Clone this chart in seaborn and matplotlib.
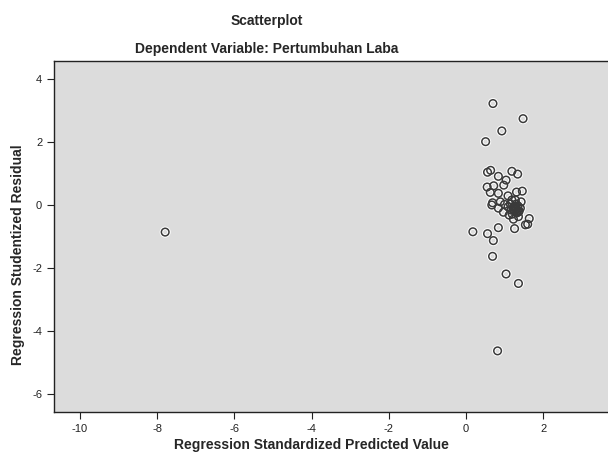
import matplotlib
matplotlib.use("Agg")
import matplotlib.pyplot as plt
import matplotlib.patheffects as pe
import pandas as pd
import seaborn as sns

# standardized predicted value vs studentized residual
pred = [
    -7.79, 0.70, 1.48, 0.93, 0.51, 0.82, 1.36, 1.04, 0.69, 0.71,
    0.56, 0.18, 0.84, 1.26, 1.54, 1.60, 1.64, 1.23,
    0.56, 0.64, 0.84, 1.19, 1.34, 1.04, 0.55, 0.72, 0.98, 0.63,
    0.84, 1.09, 1.31, 1.46, 0.69, 0.89, 1.00, 0.84, 1.19, 0.97,
    1.36, 0.67,
    1.15, 1.23, 1.30, 1.35, 1.25, 1.38, 1.17, 1.30, 1.41, 1.20,
    1.32, 1.28, 1.12, 1.43, 1.09, 1.27, 1.33, 1.22, 1.29, 1.36,
]
resid = [
    -0.86, 3.22, 2.74, 2.35, 2.01, -4.63, -2.49, -2.19, -1.63, -1.13,
    -0.91, -0.85, -0.72, -0.75, -0.63, -0.61, -0.43, -0.45,
    1.04, 1.10, 0.91, 1.07, 0.98, 0.79, 0.57, 0.61, 0.63, 0.40,
    0.37, 0.29, 0.41, 0.44, 0.07, 0.10, 0.02, -0.10, 0.16, -0.23,
    -0.37, 0.00,
    0.03, -0.06, -0.13, -0.03, -0.19, -0.19, -0.16, 0.03, -0.10, -0.29,
    -0.25, 0.16, -0.32, 0.10, -0.06, -0.09, -0.17, -0.12, -0.04, -0.22,
]
x_ticks = [-10, -8, -6, -4, -2, 0, 2]
y_ticks = [-6, -4, -2, 0, 2, 4]

df = pd.DataFrame({"pred": pred, "resid": resid})

sns.set_style("ticks")
plt.rcParams["font.family"] = ["Liberation Sans", "DejaVu Sans"]
plt.rcParams["axes.unicode_minus"] = False

fig = plt.figure(figsize=(6.08, 4.54), dpi=100)
ax = fig.add_axes([54 / 608, 1 - 412 / 454, 554 / 608, 351 / 454])
ax.set_facecolor("#dcdcdc")

sns.scatterplot(
    data=df, x="pred", y="resid", ax=ax,
    marker="o", s=30, facecolor="none", edgecolor="#3a3a3a", linewidth=1.1,
)
ax.collections[0].set_path_effects([pe.Stroke(linewidth=2.5, foreground="white"), pe.Normal()])

ax.set_xlim(-10.67, 3.68)
ax.set_ylim(-6.57, 4.57)
ax.set_xticks(x_ticks)
ax.set_yticks(y_ticks)
ax.tick_params(axis="both", labelsize=8, length=5, width=0.8, colors="#222222")
ax.set_xlabel("")
ax.set_ylabel("")
for side in ["left", "bottom", "top"]:
    ax.spines[side].set_visible(True)
    ax.spines[side].set_color("#222222")
    ax.spines[side].set_linewidth(1.0)
ax.spines["right"].set_visible(False)

fig.text(0.439, 0.954, "Scatterplot", ha="center", va="center", fontsize=10, fontweight="bold")
fig.text(0.439, 0.892, "Dependent Variable: Pertumbuhan Laba", ha="center", va="center",
         fontsize=10, fontweight="bold")
fig.text(0.513, 0.020, "Regression Standardized Predicted Value", ha="center", va="center",
         fontsize=10, fontweight="bold")
fig.text(0.030, 0.438, "Regression Studentized Residual", ha="center", va="center",
         rotation=90, fontsize=10, fontweight="bold")

fig.savefig("out.png", dpi=100)
plt.close(fig)
